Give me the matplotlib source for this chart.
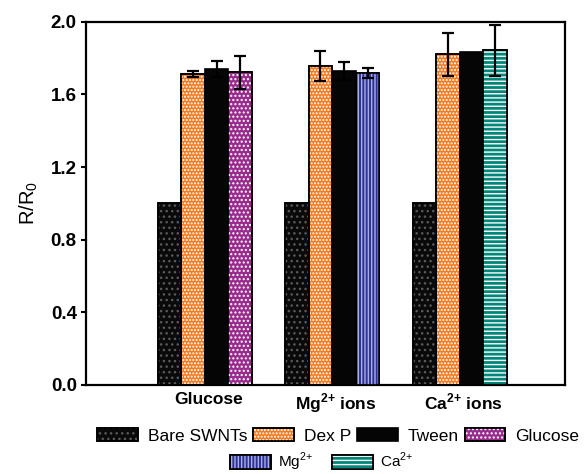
import numpy as np
import matplotlib
matplotlib.use('Agg')
import matplotlib.pyplot as plt
from matplotlib.patches import Patch

# --- Data ---
groups = ['Glucose', r'Mg$^{\mathbf{2{+}}}$ ions', r'Ca$^{\mathbf{2{+}}}$ ions']
bare = [1.0, 1.0, 1.0]
dexp = [1.713, 1.758, 1.822]
dexp_err = [0.015, 0.082, 0.118]
tween = [1.739, 1.728, 1.831]
tween_err = [0.044, 0.050, 0.0]
analyte = [1.721, 1.719, 1.842]
analyte_err = [0.093, 0.026, 0.140]

legend_labels = ['Bare SWNTs', 'Dex P', 'Tween', 'Glucose',
                 r'Mg$^{2{+}}$', r'Ca$^{2{+}}$']

# --- Styles: (face colour, hatch, hatch colour) ---
sty_bare = ('#0a0a0a', '...', '#5a5a5a')
sty_dexp = ('#F47A20', '.....', 'white')
sty_tween = ('#050505', None, None)
sty_analyte = [('#9A2A8E', '....', 'white'),
               ('#2E3192', '|||||', '#A9AEE8'),
               ('#00877A', '----', 'white')]

plt.rcParams['font.family'] = ['Liberation Sans', 'DejaVu Sans']
plt.rcParams['mathtext.fontset'] = 'custom'
plt.rcParams['mathtext.rm'] = 'Liberation Sans'
plt.rcParams['mathtext.bf'] = 'Liberation Sans:bold'
plt.rcParams['hatch.linewidth'] = 1.0

fig = plt.figure(figsize=(5.84, 4.74), dpi=100)
ax = fig.add_axes([0.147, 0.188, 0.82, 0.766])

w = 0.185
x = np.arange(len(groups))
offsets = np.array([-1.5, -0.5, 0.5, 1.5]) * w


def draw_bar(xpos, val, style):
    face, hatch, hcol = style
    ax.bar(xpos, val, w, color=face, edgecolor='black', linewidth=1.2, zorder=2)
    if hatch:
        ax.bar(xpos, val, w, fill=False, hatch=hatch, edgecolor=hcol,
               linewidth=0, zorder=3)
        ax.bar(xpos, val, w, fill=False, edgecolor='black', linewidth=1.2, zorder=4)


def err(xpos, val, e):
    if e > 0:
        ax.errorbar(xpos, val, yerr=e, fmt='none', ecolor='black',
                    elinewidth=1.6, capsize=4.5, capthick=1.6, zorder=5)


for i in range(len(groups)):
    draw_bar(x[i] + offsets[0], bare[i], sty_bare)
    draw_bar(x[i] + offsets[1], dexp[i], sty_dexp)
    draw_bar(x[i] + offsets[2], tween[i], sty_tween)
    draw_bar(x[i] + offsets[3], analyte[i], sty_analyte[i])
    err(x[i] + offsets[1], dexp[i], dexp_err[i])
    err(x[i] + offsets[2], tween[i], tween_err[i])
    err(x[i] + offsets[3], analyte[i], analyte_err[i])

ax.set_xlim(-0.933, 2.824)
ax.set_ylim(0, 2.0)
ax.set_yticks([0.0, 0.4, 0.8, 1.2, 1.6, 2.0])
ax.set_yticklabels(['0.0', '0.4', '0.8', '1.2', '1.6', '2.0'],
                   fontsize=13.5, fontweight='bold')
ax.set_xticks(x + 0.03)
ax.set_xticklabels(groups, fontsize=12.5, fontweight='bold')
ax.tick_params(axis='x', length=0, pad=5)
ax.tick_params(axis='y', direction='out', length=3.5, width=1.5, pad=3)
for s in ax.spines.values():
    s.set_linewidth(1.6)
ax.set_ylabel(r'R/R$_0$', fontsize=14.5, labelpad=8)


def handle(style):
    face, hatch, hcol = style
    base = Patch(facecolor=face, edgecolor='black', linewidth=1.2)
    if not hatch:
        return base
    return (base, Patch(fill=False, hatch=hatch, edgecolor=hcol, linewidth=0),
            Patch(fill=False, edgecolor='black', linewidth=1.2))


h_row1 = [handle(sty_bare), handle(sty_dexp), handle(sty_tween), handle(sty_analyte[0])]
h_row2 = [handle(sty_analyte[1]), handle(sty_analyte[2])]

leg_kw = dict(frameon=False, fontsize=12.5, handlelength=2.35, handleheight=0.85,
              handletextpad=0.55, columnspacing=0.35, borderpad=0, borderaxespad=0)
fig.legend(h_row1, legend_labels[:4], ncol=4, loc='center',
           bbox_to_anchor=(0.579, 0.081), **leg_kw)
leg2_kw = dict(leg_kw, fontsize=11, handlelength=2.68, handleheight=0.97,
               handletextpad=0.5, columnspacing=1.2)
fig.legend(h_row2, legend_labels[4:], ncol=2, loc='center',
           bbox_to_anchor=(0.551, 0.025), **leg2_kw)

fig.savefig('out.png', dpi=100)
